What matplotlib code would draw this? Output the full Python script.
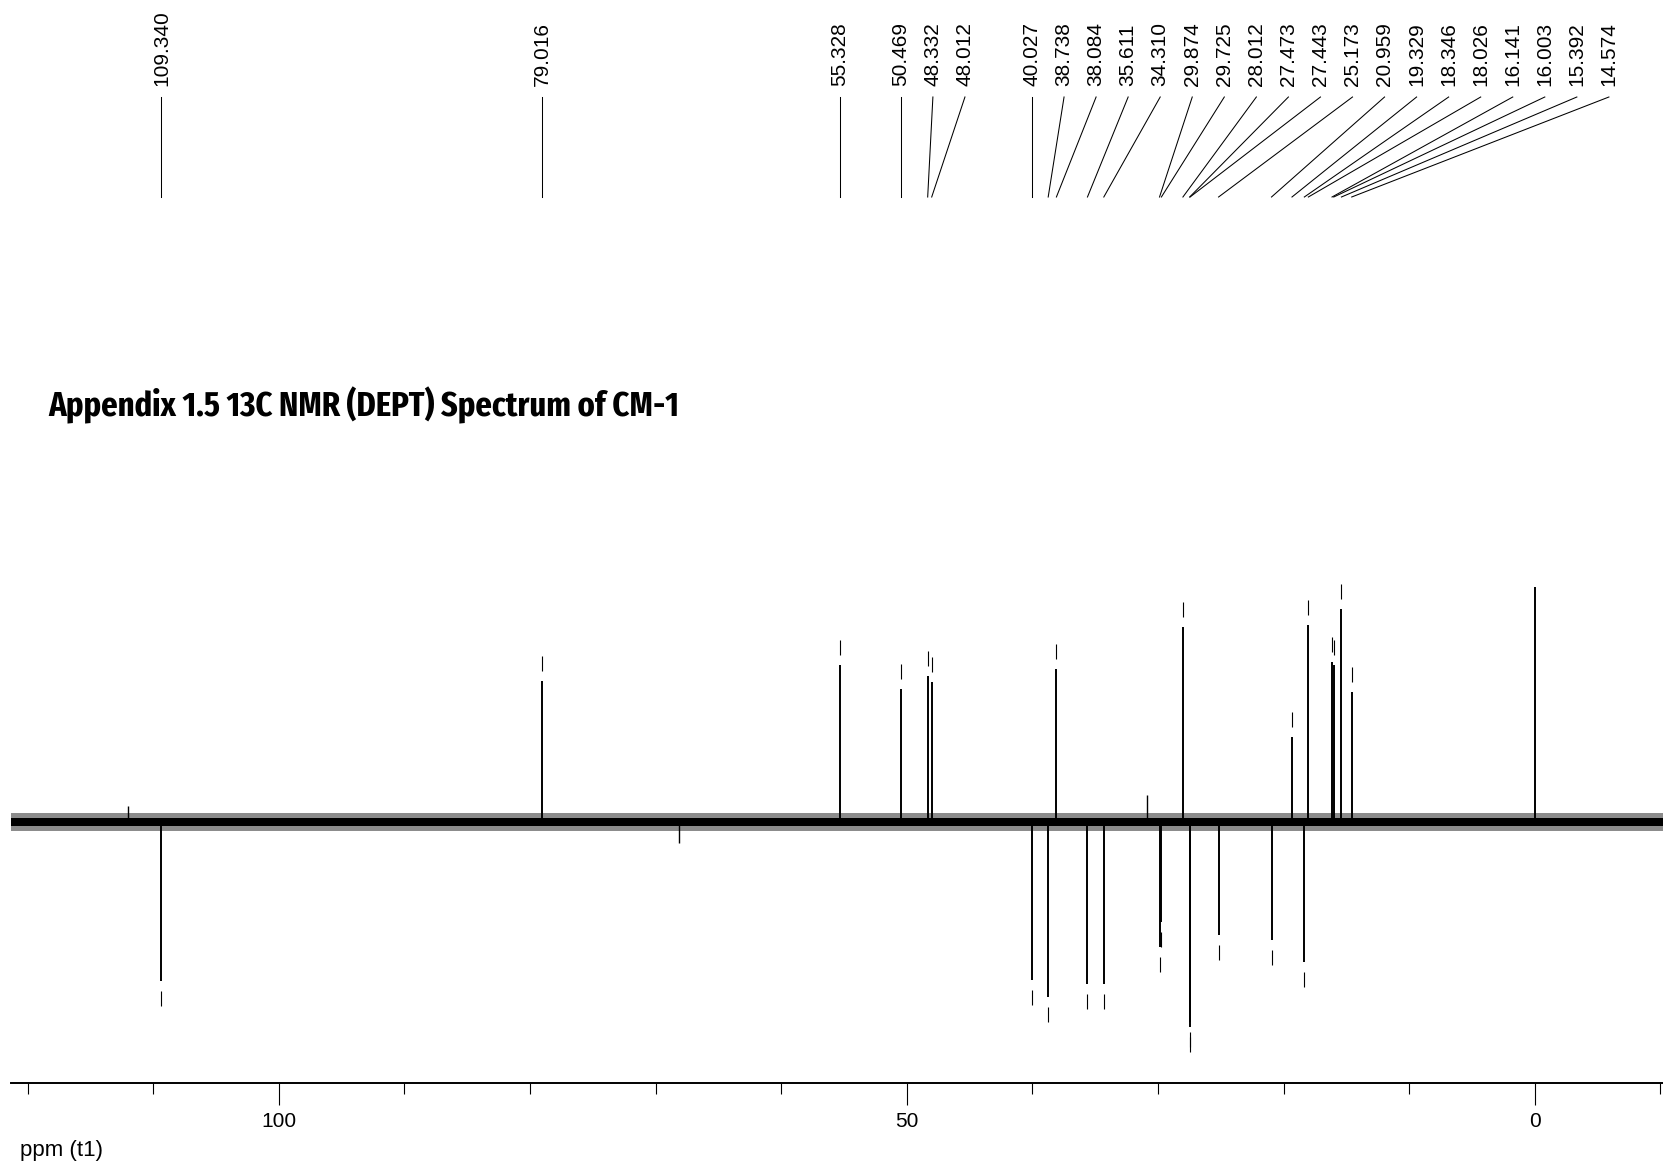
import re
import numpy as np
import matplotlib
matplotlib.use("Agg")
import matplotlib.pyplot as plt
from matplotlib import transforms
import matplotlib.font_manager as fm

# ---------------- data ----------------
peak_ppm = [109.340, 79.016, 55.328, 50.469, 48.332, 48.012, 40.027, 38.738,
            38.084, 35.611, 34.310, 29.874, 29.725, 28.012, 27.473, 27.443,
            25.173, 20.959, 19.329, 18.346, 18.026, 16.141, 16.003, 15.392,
            14.574]
peak_int = [-159.5, 140.8, 156.5, 132.2, 145.5, 139.5, -158.5, -175.0,
            153.0, -162.0, -162.0, -125.0, -100.0, 194.8, -205.0, -200.0,
            -113.5, -118.5, 84.8, -140.0, 196.5, 159.8, 156.5, 213.0,
            129.8]
peak_labels = ["109.340", "79.016", "55.328", "50.469", "48.332", "48.012",
               "40.027", "38.738", "38.084", "35.611", "34.310", "29.874",
               "29.725", "28.012", "27.473", "27.443", "25.173", "20.959",
               "19.329", "18.346", "18.026", "16.141", "16.003", "15.392",
               "14.574"]
ref_ppm = [0.0]
ref_int = [234.8]
spike_ppm = [112.0, 68.1, 30.9]
spike_int = [15.5, -21.5, 26.5]

major_ticks = [100, 50, 0]
minor_ticks = [120, 110, 90, 80, 70, 60, 40, 30, 20, 10, -10]
tick_labels = ["100", "50", "0"]
x_label = "ppm (t1)"
title = "Appendix 1.5 13C NMR (DEPT) Spectrum of CM-1"

# ---------------- layout ----------------
W, H, DPI = 1663, 1164, 100
fig = plt.figure(figsize=(W / DPI, H / DPI), dpi=DPI)
fig.patch.set_facecolor("white")

x_left, x_right = 122.19, -10.21
x_start = 121.35
ax_bottom_px, ax_top_px = 1083, 540          # from top of figure
baseline_px = 821.5
ax = fig.add_axes([0, (H - ax_bottom_px) / H, 1, (ax_bottom_px - ax_top_px) / H])
ax.set_xlim(x_left, x_right)
ax.set_ylim(-(ax_bottom_px - baseline_px), baseline_px - ax_top_px)
ax.patch.set_alpha(0)

base_font = ["Liberation Sans", "DejaVu Sans"]

# noise band of the baseline
ax.hlines(0, x_start, x_right, color="black", lw=18 * 72 / DPI, alpha=0.45,
          zorder=1)
ax.hlines(0, x_start, x_right, color="black", lw=8 * 72 / DPI, zorder=2)

# peaks
ax.vlines(peak_ppm, 0, peak_int, color="black", lw=1.4, zorder=3)
ax.vlines(ref_ppm, 0, ref_int, color="black", lw=1.4, zorder=3)
ax.vlines(spike_ppm, 0, spike_int, color="black", lw=1.0, zorder=3)

# peak-pick markers beyond each labelled peak
pi = np.array(peak_int)
sgn = np.sign(pi)
gap, mlen = 10.0, 15.0
ax.vlines(peak_ppm, pi + sgn * gap, pi + sgn * (gap + mlen), color="black",
          lw=0.8, zorder=3)

# x axis
for s in ["top", "left", "right"]:
    ax.spines[s].set_visible(False)
ax.spines["bottom"].set_bounds(x_start, x_right)
ax.spines["bottom"].set_linewidth(1.4)
ax.set_yticks([])
ax.set_xticks(major_ticks)
ax.set_xticklabels(tick_labels)
ax.set_xticks(minor_ticks, minor=True)
ax.tick_params(axis="x", which="major", direction="out", length=22 * 72 / DPI,
               width=0.8, pad=5, labelsize=15)
ax.tick_params(axis="x", which="minor", direction="out", length=11 * 72 / DPI,
               width=0.8)
for t in ax.get_xticklabels():
    t.set_family(base_font)

fig.text(20 / W, 1 - 1156 / H, x_label, ha="left", va="baseline",
         fontsize=16, family=base_font)

# ---------------- peak labels with connectors ----------------
px_per_ppm = W / (x_left - x_right)
min_sep = 32.05 / px_per_ppm
lab_pos = []
for p in peak_ppm:
    if lab_pos and p > lab_pos[-1] - min_sep:
        lab_pos.append(lab_pos[-1] - min_sep)
    else:
        lab_pos.append(p)

blend = transforms.blended_transform_factory(ax.transData, fig.transFigure)
y_text = 1 - 86 / H
y_c_top = 1 - 97 / H
y_c_bot = 1 - 197 / H
for p, lp, lab in zip(peak_ppm, lab_pos, peak_labels):
    fig.text(lp, y_text, lab, transform=blend, rotation=90, ha="center",
             va="bottom", fontsize=15, family=base_font)
    ax.plot([lp, p], [y_c_top, y_c_bot], transform=blend, color="black",
            lw=0.75, clip_on=False)

# ---------------- title (condensed bold face) ----------------
def find_condensed_bold():
    files = [f.fname for f in fm.fontManager.ttflist]
    prefs = [r"extracondensed.?bold", r"condensed.?bold", r"narrow.?bold",
             r"bold.?condensed", r"condensed"]
    for pat in prefs:
        for fn in sorted(files):
            low = fn.lower().split("/")[-1]
            if re.search(pat, low) and "italic" not in low and "oblique" not in low \
                    and "semi" not in low:
                return fn
    return None

cfile = find_condensed_bold()
if cfile:
    tprops = fm.FontProperties(fname=cfile, size=30)
else:
    tprops = fm.FontProperties(family=base_font, weight="bold", size=30)
ttl = fig.text(48 / W, 1 - 416 / H, title, ha="left", va="baseline",
               fontproperties=tprops)
renderer = fig.canvas.get_renderer()
wpx = ttl.get_window_extent(renderer).width
tprops.set_size(min(36, 30 * 631 / wpx))
ttl.set_fontproperties(tprops)

fig.savefig("out.png", dpi=DPI, facecolor="white")
